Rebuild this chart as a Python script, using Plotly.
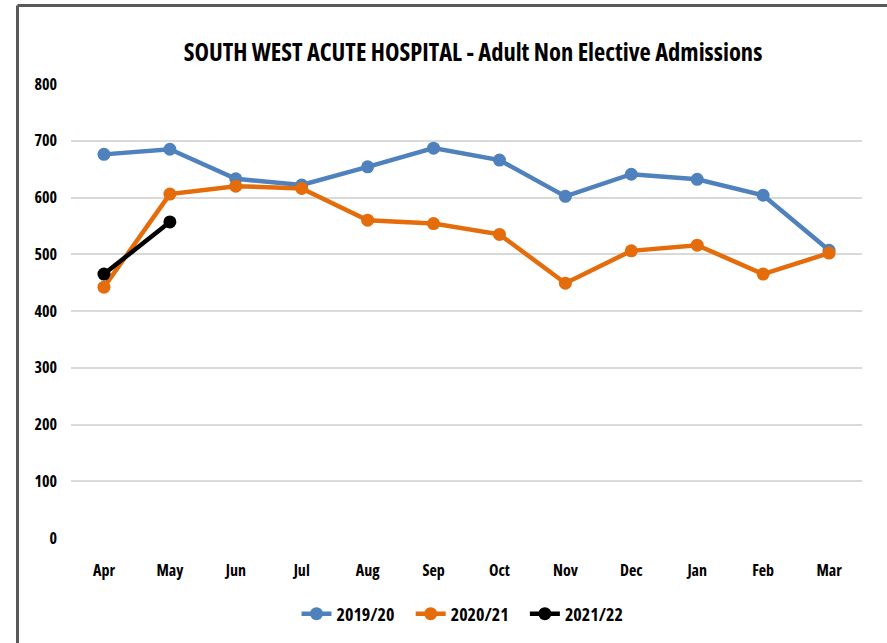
import plotly.graph_objects as go

months = ['Apr', 'May', 'Jun', 'Jul', 'Aug', 'Sep', 'Oct', 'Nov', 'Dec', 'Jan', 'Feb', 'Mar']
y2019 = [676, 685, 633, 622, 654, 687, 666, 602, 641, 632, 604, 507]
y2020 = [442, 606, 620, 616, 560, 554, 535, 449, 506, 516, 465, 502]
y2021 = [465, 557]
y_ticks = [0, 100, 200, 300, 400, 500, 600, 700, 800]

W, H = 887, 643
L, R, T, B = 71, 25, 84, 105
FONT = "Open Sans, Roboto, sans-serif"

fig = go.Figure()

series = [('2019/20', y2019, '#4f81bd'),
          ('2020/21', y2020, '#e46c0a'),
          ('2021/22', y2021, '#000000')]
for name, vals, col in series:
    fig.add_trace(go.Scatter(
        x=months[:len(vals)], y=vals,
        mode='lines+markers',
        name=name,
        line=dict(color=col, width=4.5),
        marker=dict(color=col, size=13),
    ))

# frame around the chart (top and left edges only visible)
pw, ph = W - L - R, H - T - B
px = lambda p: (p - L) / pw
py = lambda p: (H - B - p) / ph
fig.add_shape(type='line', xref='paper', yref='paper',
              x0=px(17.5), x1=px(W + 2), y0=py(5.5), y1=py(5.5),
              line=dict(color='#595959', width=3))
fig.add_shape(type='line', xref='paper', yref='paper',
              x0=px(17.5), x1=px(17.5), y0=py(5.5), y1=py(H + 2),
              line=dict(color='#595959', width=3))

fig.update_layout(
    width=W, height=H,
    margin=dict(l=L, r=R, t=T, b=B, autoexpand=False),
    paper_bgcolor='white', plot_bgcolor='white',
    font=dict(family=FONT, color='black', size=16, weight='bold'),
    title=dict(text='SOUTH WEST ACUTE HOSPITAL - Adult Non Elective Admissions',
               x=473 / W, xref='container', xanchor='center',
               y=1 - 52 / H, yanchor='middle',
               font=dict(size=24.5, family=FONT, color='black', weight='bold')),
    xaxis=dict(type='category', range=[-0.5, 11.5], showgrid=False, showline=False,
               ticks='', automargin=False, ticklabelstandoff=21),
    yaxis=dict(range=[0, 800], tickvals=y_ticks, showgrid=True,
               gridcolor='#d9d9d9', gridwidth=1.5, zeroline=False,
               showline=False, ticks='', automargin=False,
               ticklabelstandoff=13),
    legend=dict(orientation='h', x=(468 - L) / pw, xanchor='center', y=py(614), yanchor='middle',
                font=dict(size=18), itemwidth=30, traceorder='normal'),
)

# condensed face of Open Sans, no page margin; redraw once the face is loaded
post = """
var st = document.createElement('style');
st.textContent = 'body{margin:0} .main-svg text{font-stretch:condensed !important}';
document.head.appendChild(st);
var gd = document.getElementById('{plot_id}');
document.fonts.load('bold condensed 16px "Open Sans"').then(function () {
  return document.fonts.ready;
}).then(function () {
  Plotly.newPlot(gd, gd.data, gd.layout, {displayModeBar: false});
});
"""
fig.write_html("out.html", post_script=post, config={'displayModeBar': False})
